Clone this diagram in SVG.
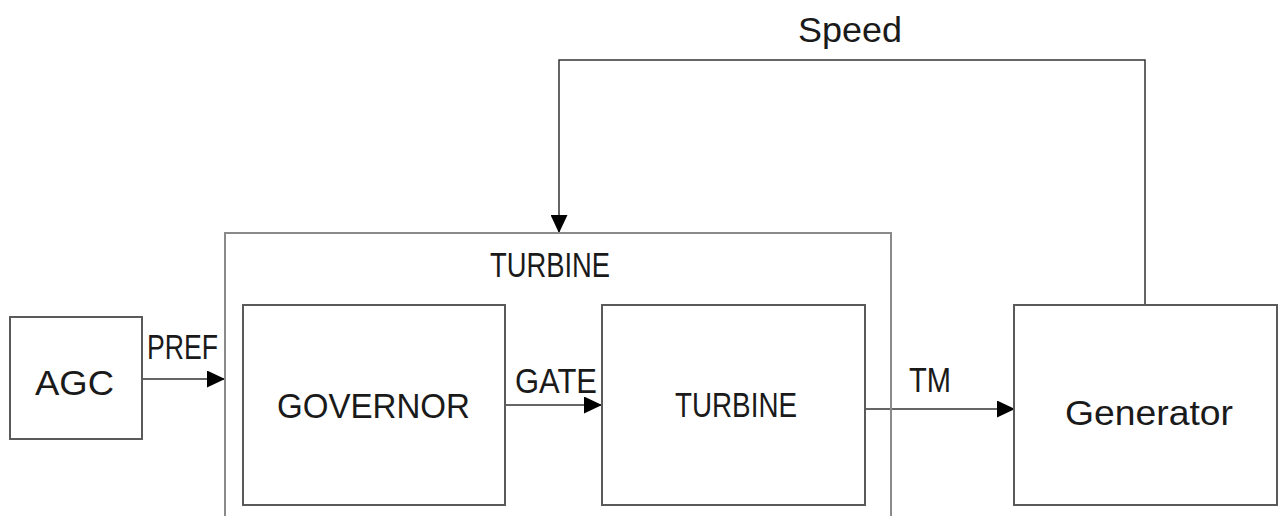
<svg xmlns="http://www.w3.org/2000/svg" width="1278" height="516" viewBox="0 0 1278 516">
  <style>
    .box { fill: none; stroke: #5a5a5a; stroke-width: 2; }
    .outer { fill: none; stroke: #8a8a8a; stroke-width: 2; }
    .wire { fill: none; stroke: #333333; stroke-width: 1.5; }
    text { font-family: "Liberation Sans", Arial, sans-serif; font-size: 35px; fill: #1a1a1a; text-anchor: middle; }
  </style>
  <defs>
    <marker id="arrow" markerUnits="userSpaceOnUse" markerWidth="18" markerHeight="17" refX="18" refY="8.5" orient="auto">
      <path d="M0,0 L18,8.5 L0,17 Z" fill="#000000"/>
    </marker>
  </defs>
  <rect width="1278" height="516" fill="#ffffff"/>

  <g id="connectors">
    <line class="wire" x1="142" y1="379" x2="225" y2="379" marker-end="url(#arrow)"/>
    <line class="wire" x1="505" y1="405" x2="602" y2="405" marker-end="url(#arrow)"/>
    <line class="wire" x1="865" y1="409" x2="1015" y2="409" marker-end="url(#arrow)"/>
    <polyline class="wire" points="1145,305 1145,60 559,60 559,233" marker-end="url(#arrow)"/>
    <text x="850" y="42" textLength="104" lengthAdjust="spacingAndGlyphs">Speed</text>
    <text x="182.5" y="359" textLength="71" lengthAdjust="spacingAndGlyphs">PREF</text>
    <text x="556" y="393" textLength="82" lengthAdjust="spacingAndGlyphs">GATE</text>
    <text x="930" y="392" textLength="42" lengthAdjust="spacingAndGlyphs">TM</text>
  </g>

  <g id="turbine-outer">
    <rect class="outer" x="225" y="233" width="666" height="300"/>
    <text x="550" y="277" textLength="120" lengthAdjust="spacingAndGlyphs">TURBINE</text>
  </g>

  <g id="agc">
    <rect class="box" x="10" y="317" width="132" height="122"/>
    <text x="74.5" y="395" textLength="79" lengthAdjust="spacingAndGlyphs">AGC</text>
  </g>

  <g id="governor">
    <rect class="box" x="243" y="305" width="262" height="200"/>
    <text x="373.5" y="418" textLength="193" lengthAdjust="spacingAndGlyphs">GOVERNOR</text>
  </g>

  <g id="turbine">
    <rect class="box" x="602" y="305" width="263" height="200"/>
    <text x="736" y="417" textLength="122" lengthAdjust="spacingAndGlyphs">TURBINE</text>
  </g>

  <g id="generator">
    <rect class="box" x="1014" y="305" width="263" height="200"/>
    <text x="1149" y="425" textLength="168" lengthAdjust="spacingAndGlyphs">Generator</text>
  </g>
</svg>
